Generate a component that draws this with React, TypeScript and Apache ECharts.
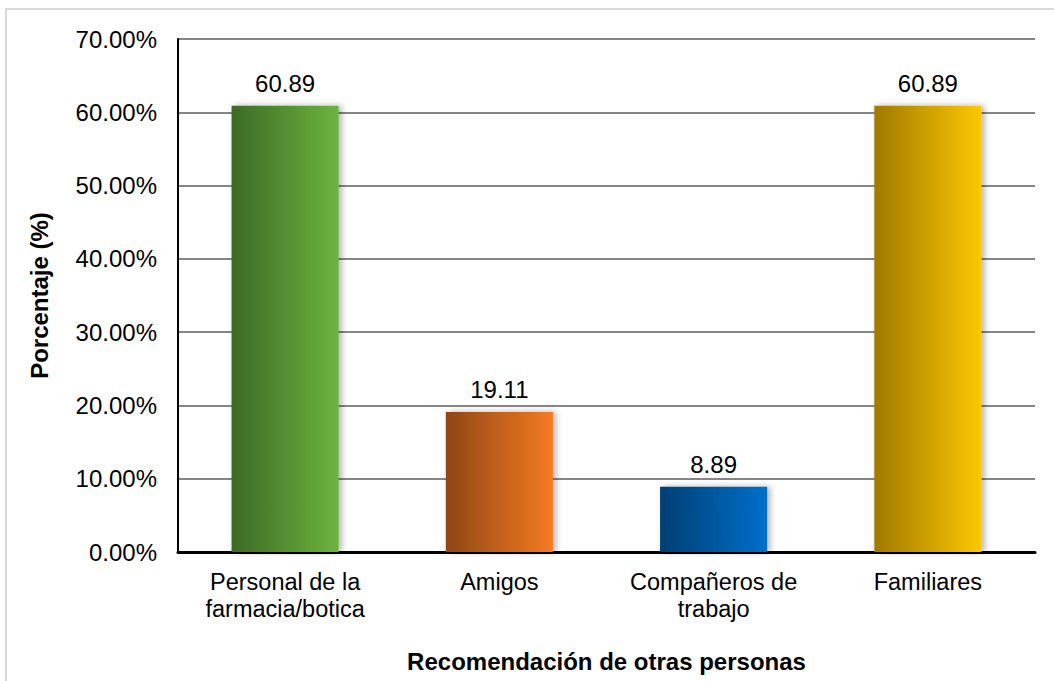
import React, { useEffect, useRef } from "react";
import * as echarts from "echarts";

const categories = ["Personal de la\nfarmacia/botica", "Amigos", "Compañeros de\ntrabajo", "Familiares"];
const values = [60.89, 19.11, 8.89, 60.89];
const gradientStops = [
  ["#3D6B25", "#6CB33E"],
  ["#8D4616", "#F67B21"],
  ["#053F74", "#0070CA"],
  ["#A07900", "#FCC700"],
];
const yTicks = { min: 0, max: 70, interval: 10 };

export default function App() {
  const ref = useRef<HTMLDivElement>(null);
  useEffect(() => {
    const chart = echarts.init(ref.current!, null, { renderer: "svg" });
    const font = "'Liberation Sans', Arial, sans-serif";
    chart.setOption({
      animation: false,
      backgroundColor: "#ffffff",
      graphic: [
        {
          type: "rect",
          shape: { x: 6, y: 9, width: 1100, height: 700 },
          style: { fill: "none", stroke: "#d9d9d9", lineWidth: 2 },
          silent: true,
          z: -1,
        },
      ],
      grid: { left: 178, right: 19, top: 39, bottom: 129, containLabel: false },
      xAxis: {
        type: "category",
        data: categories,
        axisLine: { lineStyle: { color: "#000", width: 3 } },
        axisTick: { show: false },
        axisLabel: {
          interval: 0,
          hideOverlap: false,
          fontFamily: font,
          fontSize: 23.5,
          color: "#000",
          lineHeight: 27,
          margin: 16,
        },
        name: "Recomendación de otras personas",
        nameLocation: "middle",
        nameGap: 97,
        nameTextStyle: { fontFamily: font, fontSize: 24, fontWeight: "bold", color: "#000" },
      },
      yAxis: {
        type: "value",
        min: yTicks.min,
        max: yTicks.max,
        interval: yTicks.interval,
        axisLine: { show: true, lineStyle: { color: "#000", width: 2 } },
        axisTick: { show: false },
        splitLine: { lineStyle: { color: "#868686", width: 2 } },
        axisLabel: {
          fontFamily: font,
          fontSize: 24,
          color: "#000",
          margin: 21,
          formatter: (v: number) => v.toFixed(2) + "%",
        },
        name: "Porcentaje (%)",
        nameLocation: "middle",
        nameGap: 127,
        nameTextStyle: { fontFamily: font, fontSize: 24, fontWeight: "bold", color: "#000" },
      },
      series: [
        {
          type: "bar",
          barWidth: "50%",
          data: values.map((v, i) => ({
            value: v,
            itemStyle: {
              color: new echarts.graphic.LinearGradient(0, 0, 1, 0, [
                { offset: 0, color: gradientStops[i][0] },
                { offset: 1, color: gradientStops[i][1] },
              ]),
              shadowBlur: 6,
              shadowOffsetX: 3,
              shadowOffsetY: 0,
              shadowColor: "rgba(0,0,0,0.3)",
            },
          })),
          label: {
            show: true,
            position: "top",
            distance: 10,
            fontFamily: font,
            fontSize: 24,
            color: "#000",
            formatter: (p: any) => p.value.toFixed(2),
          },
        },
      ],
    });
    return () => chart.dispose();
  }, []);
  return (
    <div
      ref={ref}
      style={{ position: "fixed", left: 0, top: 0, width: 1054, height: 681 }}
    />
  );
}
